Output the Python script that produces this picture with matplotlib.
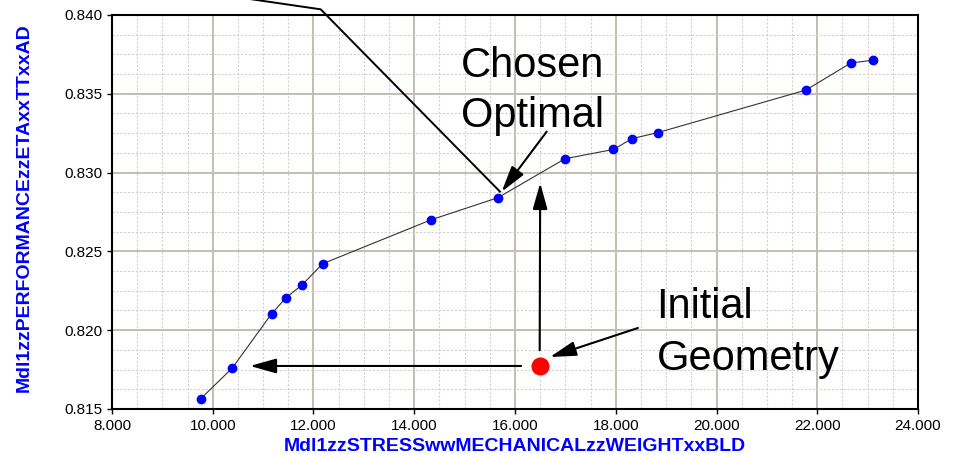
import numpy as np
import matplotlib
matplotlib.use("Agg")
from matplotlib import pyplot as plt
from matplotlib.ticker import MultipleLocator, FormatStrFormatter

plt.rcParams['font.family'] = ['Liberation Sans', 'DejaVu Sans']

# pareto front points
stress = [9.761, 10.388, 11.170, 11.454, 11.772, 12.183, 14.339, 15.663,
          16.993, 17.955, 18.327, 18.839, 21.777, 22.664, 23.113]
eta = [0.81565, 0.8176, 0.82105, 0.82206, 0.82287, 0.82422, 0.82701, 0.82841,
       0.83088, 0.83147, 0.83216, 0.83254, 0.83524, 0.83695, 0.83714]

# initial design
init_x = 16.49
init_y = 0.81773

# annotation anchors (data units)
horiz_tip = (10.74, 0.81773)
vert_tip = (16.50, 0.82934)
init_txt_arrow = ((18.44, 0.82014), (16.695, 0.81830))
opt_txt_arrow = ((16.629, 0.83260), (15.736, 0.82879))
leader_x = [7.762, 12.143, 15.702]
leader_y = [0.8424, 0.84036, 0.82879]

fig = plt.figure(figsize=(9.54, 4.55), dpi=100)
ax = fig.add_axes([112/954, 46/455, 806/954, 394/455])

ax.set_xlim(8, 24)
ax.set_ylim(0.815, 0.840)
ax.xaxis.set_major_locator(MultipleLocator(2))
ax.xaxis.set_minor_locator(MultipleLocator(0.5))
ax.yaxis.set_major_locator(MultipleLocator(0.005))
ax.yaxis.set_minor_locator(MultipleLocator(0.00125))
ax.xaxis.set_major_formatter(FormatStrFormatter('%.3f'))
ax.yaxis.set_major_formatter(FormatStrFormatter('%.3f'))

ax.grid(which='major', color='#c4bdb6', linewidth=1.4)
ax.grid(which='minor', color='#d4d0cc', linewidth=0.8, linestyle=(0, (2, 1.5)))
ax.set_axisbelow(True)
ax.tick_params(which='minor', length=0)
ax.tick_params(which='major', length=3.6, width=1, color='black', direction='out')
ax.tick_params(axis='x', pad=3.5, labelsize=11)
ax.tick_params(axis='y', pad=3.5, labelsize=11)
for s in ax.spines.values():
    s.set_linewidth(1.5)
    s.set_color('black')

ax.plot(stress, eta, color='#333333', linewidth=0.8, zorder=3)
ax.plot(stress, eta, 'o', color='#0000ff', markersize=6, zorder=4)
ax.plot([init_x], [init_y], 'o', color='#ff0000', markersize=12, zorder=4)

arrow = dict(arrowstyle='-|>,head_length=1.6,head_width=0.45', color='black',
             linewidth=1.5, shrinkA=0, shrinkB=0, mutation_scale=10)
ax.annotate('', xy=horiz_tip, xytext=(init_x - 0.37, init_y), arrowprops=arrow)
ax.annotate('', xy=vert_tip, xytext=(init_x, init_y + 0.001), arrowprops=arrow)
ax.annotate('', xy=init_txt_arrow[1], xytext=init_txt_arrow[0], arrowprops=arrow)
ax.annotate('', xy=opt_txt_arrow[1], xytext=opt_txt_arrow[0], arrowprops=arrow)
ax.plot(leader_x, leader_y, color='black', linewidth=1.4, clip_on=False, zorder=5)

ax.text(14.92, 0.83609, 'Chosen', fontsize=30, va='baseline', ha='left')
ax.text(14.92, 0.83291, 'Optimal', fontsize=30, va='baseline', ha='left')
ax.text(18.80, 0.82076, 'Initial', fontsize=30, va='baseline', ha='left')
ax.text(18.82, 0.81747, 'Geometry', fontsize=30, va='baseline', ha='left')

ax.set_xlabel('Mdl1zzSTRESSwwMECHANICALzzWEIGHTxxBLD', color='#0000ff',
              fontsize=14, fontweight='bold')
ax.set_ylabel('Mdl1zzPERFORMANCEzzETAxxTTxxAD', color='#0000ff',
              fontsize=14, fontweight='bold')
ax.xaxis.set_label_coords(0.5, -29/394)
ax.yaxis.set_label_coords(-79/806, 0.51)

plt.savefig('out.png', dpi=100)
